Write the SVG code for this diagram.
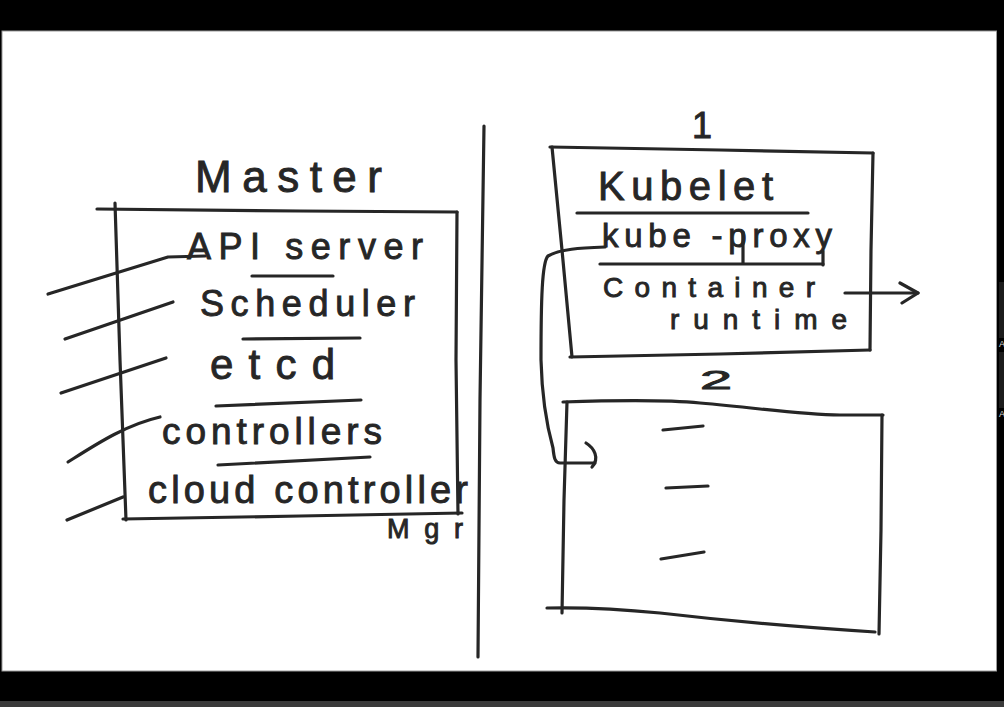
<svg xmlns="http://www.w3.org/2000/svg" width="1004" height="707" viewBox="0 0 1004 707">
  <defs>
    <style>
      .ink { fill: none; stroke: #262626; stroke-width: 3.2; stroke-linecap: round; stroke-linejoin: round; }
      .txt { fill: #262626; stroke: #262626; stroke-width: 0.9; font-family: "Liberation Sans", "DejaVu Sans", sans-serif; font-weight: normal; }
    </style>
    <marker id="openArrow" viewBox="0 0 24 24" refX="21" refY="12" markerWidth="24" markerHeight="24" markerUnits="userSpaceOnUse" orient="auto">
      <path d="M3 2 L21 12 L5 22" fill="none" stroke="#262626" stroke-width="3.2" stroke-linecap="round" stroke-linejoin="round"/>
    </marker>
  </defs>

  <!-- screen frame -->
  <rect x="0" y="0" width="1004" height="707" fill="#000"/>
  <rect x="0" y="701" width="1004" height="6" fill="#3a3a3a"/>
  <rect x="2" y="31" width="994.5" height="640" fill="#fff" stroke="#9a9a9a" stroke-width="1"/>
  <rect x="999" y="282" width="5" height="56" fill="#1c1c1c"/>
  <rect x="999" y="352" width="5" height="56" fill="#1c1c1c"/>
  <text x="999" y="347" font-family="Liberation Sans, sans-serif" font-size="9" fill="#ddd">A</text>
  <text x="999" y="417" font-family="Liberation Sans, sans-serif" font-size="9" fill="#ddd">A</text>

  <!-- divider -->
  <g id="divider">
    <path class="ink" d="M484 126 L480 400 L478 657"/>
  </g>

  <!-- Master node -->
  <g id="master">
    <text class="txt" x="195" y="192" font-size="44" textLength="187" lengthAdjust="spacing">Master</text>
    <path class="ink" d="M97 209 L300 211 L457 212"/>
    <path class="ink" d="M115 203 L120 360 L126 520"/>
    <path class="ink" d="M457 212 L456 360 L458 514"/>
    <path class="ink" d="M123 519 L300 516 L462 513"/>
    <text class="txt" x="187" y="259" font-size="36" textLength="236" lengthAdjust="spacing">API server</text>
    <path class="ink" d="M252 276 L333 276"/>
    <text class="txt" x="200" y="316" font-size="36" textLength="215" lengthAdjust="spacing">Scheduler</text>
    <path class="ink" d="M243 339 L360 338"/>
    <text class="txt" x="210" y="379" font-size="42" textLength="125" lengthAdjust="spacing">etcd</text>
    <path class="ink" d="M216 406 L361 400"/>
    <text class="txt" x="162" y="444" font-size="37" textLength="220" lengthAdjust="spacing">controllers</text>
    <path class="ink" d="M218 465 L370 457"/>
    <text class="txt" x="148" y="503" font-size="38" textLength="320" lengthAdjust="spacing">cloud controller</text>
    <text class="txt" x="387" y="538" font-size="27" textLength="76" lengthAdjust="spacing">Mgr</text>
  </g>

  <!-- Worker node 1 -->
  <g id="node1">
    <text class="txt" x="692" y="138" font-size="36">1</text>
    <path class="ink" d="M550 147 L720 150 L873 153"/>
    <path class="ink" d="M552 147 L562 250 L572 357"/>
    <path class="ink" d="M873 153 L871 250 L870 350"/>
    <path class="ink" d="M570 357 L720 354 L870 350"/>
    <text class="txt" x="598" y="200" font-size="40" textLength="175" lengthAdjust="spacing">Kubelet</text>
    <path class="ink" d="M577 213 L808 213"/>
    <text class="txt" x="602" y="247" font-size="33" textLength="230" lengthAdjust="spacing">kube -proxy</text>
    <path class="ink" d="M743 232 L743 263"/>
    <path class="ink" d="M823 251 L823 265"/>
    <path class="ink" d="M600 264 L823 264"/>
    <text class="txt" x="603" y="297" font-size="28" textLength="212" lengthAdjust="spacing">Container</text>
    <text class="txt" x="670" y="329" font-size="28" textLength="177" lengthAdjust="spacing">runtime</text>
  </g>

  <!-- Worker node 2 -->
  <g id="node2">
    <text class="txt" x="700" y="389" font-size="26" textLength="32" lengthAdjust="spacingAndGlyphs">2</text>
    <path class="ink" d="M563 402 C620 400 670 400 700 403 C760 408 800 415 840 415 L883 415"/>
    <path class="ink" d="M567 402 L564 500 L562 613"/>
    <path class="ink" d="M882 415 L881 530 L879 634"/>
    <path class="ink" d="M547 608 C590 607 620 609 660 613 C720 620 780 626 875 632"/>
    <path class="ink" d="M663 430 L703 426"/>
    <path class="ink" d="M666 488 L708 486"/>
    <path class="ink" d="M661 559 L704 552"/>
  </g>

  <!-- connectors -->
  <g id="connectors">
    <path class="ink" d="M48 294 L168 257 L205 256"/>
    <path class="ink" d="M65 339 L173 302"/>
    <path class="ink" d="M61 393 L166 358"/>
    <path class="ink" d="M68 462 C95 445 125 425 160 417"/>
    <path class="ink" d="M67 520 L123 497"/>
    <path class="ink" d="M845 293 L918 293" marker-end="url(#openArrow)"/>
    <path class="ink" d="M605 247 C580 248 560 249 548 256 C542 262 541 300 541 360 C542 400 548 430 553 448 C554 458 555 463 560 463 L595 463"/>
    <path class="ink" d="M586 443 C594 448 600 458 592 467"/>
  </g>
</svg>
